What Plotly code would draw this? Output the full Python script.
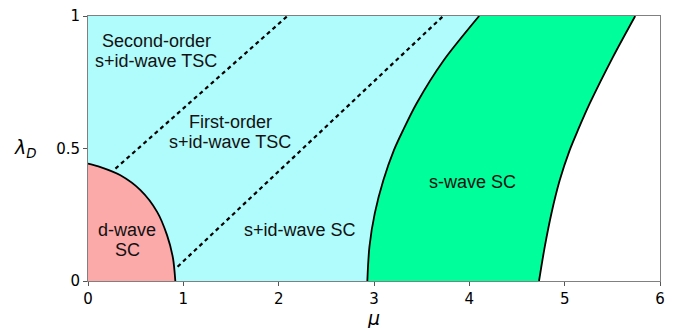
import plotly.graph_objects as go

# ---- data (mu, lambda_D) ----
d_mu = [0.0, 0.131, 0.34, 0.55, 0.725, 0.829, 0.892, 0.916]
d_lam = [0.443, 0.43, 0.399, 0.343, 0.261, 0.173, 0.085, 0.0]

sl_mu = [2.930, 2.952, 3.008, 3.098, 3.208, 3.305, 3.445, 3.730, 4.103]
sl_lam = [0.0, 0.129, 0.255, 0.380, 0.493, 0.569, 0.669, 0.832, 1.0]

sr_mu = [4.731, 4.791, 4.861, 4.948, 5.052, 5.139, 5.262, 5.506, 5.740]
sr_lam = [0.0, 0.129, 0.255, 0.380, 0.493, 0.569, 0.669, 0.845, 1.0]

dash1_mu = [0.288, 2.092]
dash1_lam = [0.424, 1.0]
dash2_mu = [0.94, 3.726]
dash2_lam = [0.054, 1.0]

x_ticks = [0, 1, 2, 3, 4, 5, 6]
y_ticks = [0, 0.5, 1]
y_tick_text = ["0", "0.5", "1"]

labels = [
    ("Second-order", 0.717, 0.905),
    ("s+id-wave TSC", 0.717, 0.830),
    ("First-order", 1.492, 0.599),
    ("s+id-wave TSC", 1.492, 0.523),
    ("s+id-wave SC", 2.225, 0.192),
    ("d-wave", 0.414, 0.192),
    ("SC", 0.414, 0.117),
    ("s-wave SC", 4.031, 0.375),
]

CYAN = "#b0fcfc"
PINK = "#fba9a9"
GREEN = "#00fe9a"

fig = go.Figure()

# cyan region (left of s-wave left boundary)
cx = [0, 0] + sl_mu[::-1] + [0]
cy = [0, 1] + sl_lam[::-1] + [0]
fig.add_trace(go.Scatter(x=cx, y=cy, fill="toself", fillcolor=CYAN,
                         mode="none", hoverinfo="skip"))

# pink d-wave region
px_ = [0] + d_mu + [0]
py_ = [0] + d_lam + [0]
fig.add_trace(go.Scatter(x=px_, y=py_, fill="toself", fillcolor=PINK,
                         mode="none", hoverinfo="skip"))

# green s-wave region
gx = sl_mu + sr_mu[::-1] + [sl_mu[0]]
gy = sl_lam + sr_lam[::-1] + [sl_lam[0]]
fig.add_trace(go.Scatter(x=gx, y=gy, fill="toself", fillcolor=GREEN,
                         mode="none", hoverinfo="skip"))

# boundary lines
for xs, ys in [(d_mu, d_lam), (sl_mu, sl_lam), (sr_mu, sr_lam)]:
    fig.add_trace(go.Scatter(x=xs, y=ys, mode="lines",
                             line=dict(color="black", width=1.8, shape="spline", smoothing=0.8),
                             hoverinfo="skip"))
for xs, ys in [(dash1_mu, dash1_lam), (dash2_mu, dash2_lam)]:
    fig.add_trace(go.Scatter(x=xs, y=ys, mode="lines",
                             line=dict(color="black", width=2.2, dash="4px,3.5px"),
                             hoverinfo="skip"))

for text, x, y in labels:
    fig.add_annotation(x=x, y=y, text=text, showarrow=False, xref="x", yref="y",
                       font=dict(family="Liberation Sans, Arial", size=18, color="#111"))

# axis labels
fig.add_annotation(xref="paper", yref="paper", x=-0.109, y=0.5, xanchor="center", yanchor="middle",
                   text="<i>λ</i><sub><i>D</i></sub>", showarrow=False,
                   font=dict(family="DejaVu Sans", size=19, color="black"))
fig.add_annotation(xref="paper", yref="paper", x=0.499, y=-0.14, xanchor="center", yanchor="middle",
                   text="<i>μ</i>", showarrow=False,
                   font=dict(family="DejaVu Sans", size=19, color="black"))

# the page body adds an 8px offset, so margins compensate for it
fig.update_layout(
    width=680, height=328,
    margin=dict(l=79.5, r=27.5, t=7.5, b=55, autoexpand=False),
    paper_bgcolor="white", plot_bgcolor="white",
    showlegend=False,
    font=dict(family="DejaVu Sans", size=15, color="black"),
)
fig.update_xaxes(range=[0, 6], tickvals=x_ticks, ticks="outside", ticklen=4,
                 tickcolor="#555", showline=True, linecolor="#808080", linewidth=1,
                 mirror=True, showgrid=False, zeroline=False, automargin=False,
                 ticklabeloverflow="allow",
                 tickfont=dict(family="DejaVu Sans", size=15, color="black"))
fig.update_yaxes(range=[0, 1], tickvals=y_ticks, ticktext=y_tick_text, ticks="outside",
                 ticklen=4, tickcolor="#555", showline=True, linecolor="#808080",
                 linewidth=1, mirror=True, showgrid=False, zeroline=False, automargin=False,
                 ticklabeloverflow="allow",
                 tickfont=dict(family="DejaVu Sans", size=15, color="black"))

fig.write_html("out.html")
